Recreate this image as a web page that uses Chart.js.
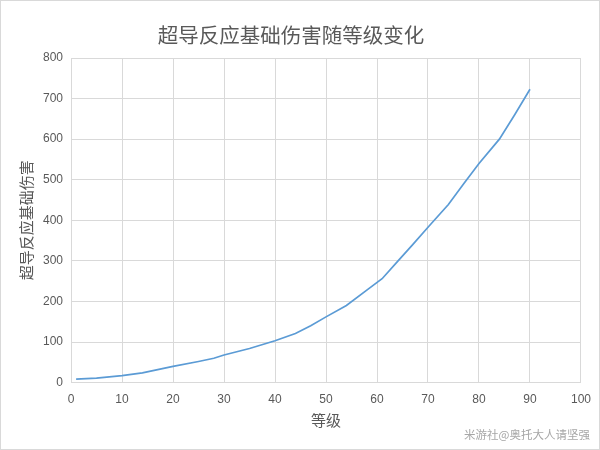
<!DOCTYPE html>
<html>
<head>
<meta charset="utf-8">
<script src="https://cdn.jsdelivr.net/npm/chart.js@4"></script>
<style>
  html, body { margin: 0; padding: 0; background: #fff; }
  #wrap { position: relative; width: 600px; height: 450px; box-sizing: border-box; border: 1px solid #d9d9d9; }
  #chart { position: absolute; left: 0; top: 0; }
  #title { position: absolute; left: 0; width: 580px; top: 19px; text-align: center; font: 20.5px "Noto Sans CJK SC", sans-serif; color: #595959; line-height: 28px; }
  #mark { position: absolute; right: 9px; bottom: 7px; font: 11.5px "Noto Sans CJK SC", sans-serif; color: #a6a6a6; }
</style>
</head>
<body>
<div id="wrap">
  <canvas id="chart" width="600" height="450"></canvas>
  <div id="title">超导反应基础伤害随等级变化</div>
  <div id="mark">米游社@奥托大人请坚强</div>
</div>
<script>
// levels and superconduct base damage
const levels = [1, 5, 10, 14, 20, 25, 28, 30, 35, 40, 44, 47, 50, 54, 58, 61, 64, 67, 70, 74, 77, 80, 84, 87, 90];
const damage = [8.6, 11, 17, 24, 40, 52, 60, 68, 84, 103, 121, 140, 162, 190, 228, 256, 298, 340, 383, 439, 490, 540, 600, 660, 723];

const xTicks = [0, 10, 20, 30, 40, 50, 60, 70, 80, 90, 100];
const yTicks = [0, 100, 200, 300, 400, 500, 600, 700, 800];

const cjk = '"Noto Sans CJK SC", sans-serif';
const textColor = '#595959';

const points = levels.map((lv, i) => ({ x: lv, y: damage[i] }));

new Chart(document.getElementById('chart'), {
    type: 'scatter',
    data: {
        datasets: [{
            data: points,
            showLine: true,
            borderColor: '#5b9bd5',
            borderWidth: 1.7,
            pointRadius: 0,
            tension: 0
        }]
    },
    options: {
        responsive: false,
        animation: false,
        layout: { padding: { left: 12, right: 14, top: 57, bottom: 19 } },
        plugins: {
            legend: { display: false },
            tooltip: { enabled: false },
            title: { display: false }
        },
        scales: {
            x: {
                type: 'linear',
                min: 0,
                max: 100,
                afterBuildTicks: axis => { axis.ticks = xTicks.map(v => ({ value: v })); },
                grid: { color: '#d9d9d9', drawTicks: false },
                border: { color: '#d9d9d9' },
                ticks: { color: textColor, font: { size: 12 }, padding: 10, maxRotation: 0 },
                title: { display: true, text: '等级', color: textColor, font: { family: cjk, size: 15, lineHeight: 1 }, padding: { top: -4, bottom: 4 } }
            },
            y: {
                min: 0,
                max: 800,
                afterBuildTicks: axis => { axis.ticks = yTicks.map(v => ({ value: v })); },
                grid: { color: '#d9d9d9', drawTicks: false },
                border: { color: '#d9d9d9' },
                ticks: { color: textColor, font: { size: 12 }, padding: 8 },
                title: { display: true, text: '超导反应基础伤害', color: textColor, font: { family: cjk, size: 15 }, padding: { top: 4, bottom: 0 } }
            }
        }
    }
});
</script>
</body>
</html>
